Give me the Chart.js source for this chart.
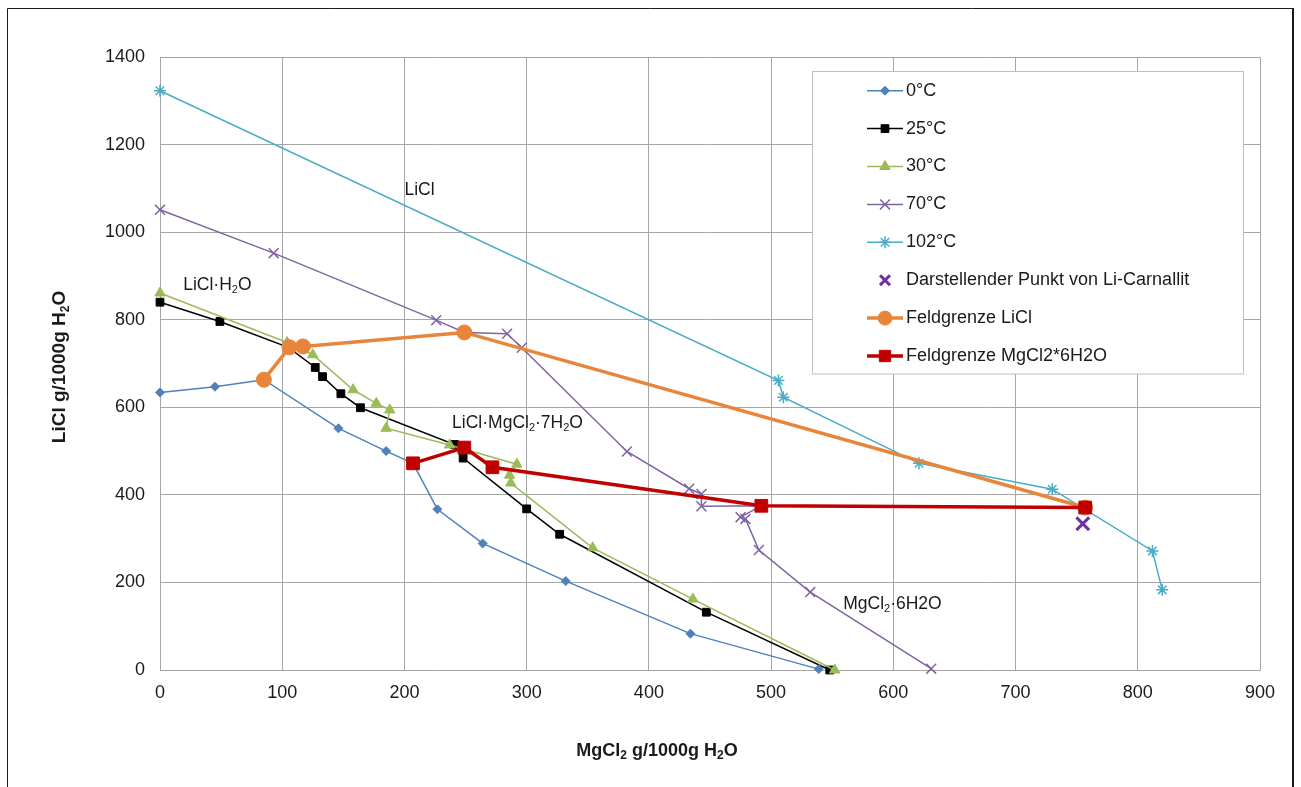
<!DOCTYPE html>
<html>
<head>
<meta charset="utf-8">
<script src="https://cdn.jsdelivr.net/npm/chart.js@4/dist/chart.umd.min.js"></script>
<style>
  html, body { margin: 0; padding: 0; background: #fff; }
  #wrap { position: relative; width: 1301px; height: 787px; }
</style>
</head>
<body>
<div id="wrap"><canvas id="c" width="1301" height="787"></canvas></div>
<script>
// ---------- DATA ----------
const xTicks = [0, 100, 200, 300, 400, 500, 600, 700, 800, 900];
const yTicks = [0, 200, 400, 600, 800, 1000, 1200, 1400];

const seriesLabels = ["0°C", "25°C", "30°C", "70°C", "102°C",
  "Darstellender Punkt von Li-Carnallit", "Feldgrenze LiCl", "Feldgrenze MgCl2*6H2O"];

const x0C = [0, 45, 85, 146, 185, 207, 227, 264, 332, 434, 539];
const y0C = [634, 647, 663, 552, 500, 472, 367, 289, 203, 83, 2];

const x25C = [0, 49, 105, 127, 133, 148, 164, 241, 248, 300, 327, 447, 548];
const y25C = [840, 796, 737, 691, 670, 631, 599, 515, 484, 368, 310, 132, 0];

const x30C = [0, 104, 125, 158, 177, 188, 185, 237, 292, 286, 287, 354, 436, 552];
const y30C = [861, 748, 720, 640, 609, 594, 552, 514, 470, 445, 427, 279, 162, 0];

const x70C = [0, 93, 226, 249, 284, 296, 382, 433, 443, 443, 492, 475, 479, 490, 532, 631];
const y70C = [1051, 952, 799, 771, 768, 736, 499, 414, 402, 374, 375, 349, 345, 274, 178, 3];

const x102C = [0, 506, 510, 621, 730, 812, 820];
const y102C = [1323, 661, 623, 472, 413, 272, 183];

const xCarnallit = [755];
const yCarnallit = [334];

const xFeldLiCl = [85, 106, 117, 249, 757];
const yFeldLiCl = [663, 737, 739, 771, 371];

const xFeldMg = [207, 249, 272, 492, 757];
const yFeldMg = [472, 508, 463, 375, 371];

// text annotations (data coordinates of left edge / vertical middle)
const annoTexts = [
  [["LiCl", 0]],
  [["LiCl·H", 0], ["2", 1], ["O", 0]],
  [["LiCl·MgCl", 0], ["2", 1], ["·7H", 0], ["2", 1], ["O", 0]],
  [["MgCl", 0], ["2", 1], ["·6H2O", 0]]
];
const annoX = [200, 19, 239, 559];
const annoY = [1096, 879, 564, 151];

// ---------- helpers ----------
function pts(xs, ys) { return xs.map((x, i) => ({ x: x, y: ys[i] })); }

const FONT = '"Liberation Sans", Arial, sans-serif';

function richWidth(ctx, segs, size, weight) {
  let w = 0;
  segs.forEach(s => {
    ctx.font = (weight || '') + ' ' + (s[1] ? Math.round(size * 0.65) : size) + 'px ' + FONT;
    w += ctx.measureText(s[0]).width;
  });
  return w;
}
function drawRich(ctx, segs, x, y, size, weight) {
  ctx.textAlign = 'left';
  ctx.textBaseline = 'middle';
  let cx = x;
  segs.forEach(s => {
    const sz = s[1] ? Math.round(size * 0.65) : size;
    ctx.font = (weight || '') + ' ' + sz + 'px ' + FONT;
    ctx.fillText(s[0], cx, s[1] ? y + size * 0.28 : y);
    cx += ctx.measureText(s[0]).width;
  });
}

function drawMarker(ctx, style, r, x, y, bw) {
  if (Chart.helpers && Chart.helpers.drawPoint) {
    Chart.helpers.drawPoint(ctx, { pointStyle: style, radius: r, rotation: 0, borderWidth: bw }, x, y);
    return;
  }
  ctx.beginPath();
  ctx.arc(x, y, r, 0, Math.PI * 2);
  ctx.fill(); ctx.stroke();
}

const GRID = '#A6A6A6';

const datasets = [
  { label: seriesLabels[0], data: pts(x0C, y0C), borderColor: '#4F81BD', backgroundColor: '#4F81BD',
    borderWidth: 1.5, pointStyle: 'rectRot', pointRadius: 4.5, pointBorderWidth: 1, order: 5 },
  { label: seriesLabels[1], data: pts(x25C, y25C), borderColor: '#000000', backgroundColor: '#000000',
    borderWidth: 1.5, pointStyle: 'rect', pointRadius: 5.5, pointBorderWidth: 1, order: 6 },
  { label: seriesLabels[2], data: pts(x30C, y30C), borderColor: '#9BBB59', backgroundColor: '#9BBB59',
    borderWidth: 1.5, pointStyle: 'triangle', pointRadius: 6, pointBorderWidth: 1, order: 4 },
  { label: seriesLabels[3], data: pts(x70C, y70C), borderColor: '#8064A2', backgroundColor: '#8064A2',
    borderWidth: 1.5, pointStyle: 'crossRot', pointRadius: 7, pointBorderWidth: 1.5, order: 7 },
  { label: seriesLabels[4], data: pts(x102C, y102C), borderColor: '#4BACC6', backgroundColor: '#4BACC6',
    borderWidth: 1.5, pointStyle: 'star', pointRadius: 6, pointBorderWidth: 1.5, order: 8 },
  { label: seriesLabels[5], data: pts(xCarnallit, yCarnallit), borderColor: '#7030A0', backgroundColor: '#7030A0',
    showLine: false, borderWidth: 3, pointStyle: 'crossRot', pointRadius: 9, pointBorderWidth: 3, order: 0 },
  { label: seriesLabels[6], data: pts(xFeldLiCl, yFeldLiCl), borderColor: '#E8853A', backgroundColor: '#E8853A',
    borderWidth: 3.5, pointStyle: 'circle', pointRadius: 7.5, pointBorderWidth: 1, order: 2 },
  { label: seriesLabels[7], data: pts(xFeldMg, yFeldMg), borderColor: '#C00000', backgroundColor: '#C00000',
    borderWidth: 3.5, pointStyle: 'rect', pointRadius: 9, pointBorderWidth: 1, order: 1 }
];
datasets.forEach(d => {
  if (d.showLine === undefined) d.showLine = true;
  d.pointBackgroundColor = d.backgroundColor;
  d.pointBorderColor = d.borderColor;
  d.pointHoverRadius = d.pointRadius;
  d.tension = 0;
  d.fill = false;
  d.clip = false;
});

const extras = {
  id: 'extras',
  beforeDraw(chart) {
    const ctx = chart.ctx;
    ctx.save();
    ctx.fillStyle = '#fff';
    ctx.fillRect(0, 0, chart.width, chart.height);
    ctx.strokeStyle = '#1a1a1a';
    ctx.lineWidth = 1;
    ctx.beginPath();
    ctx.moveTo(7.5, 800); ctx.lineTo(7.5, 8.5); ctx.lineTo(1293, 8.5);
    ctx.stroke();
    ctx.lineWidth = 2;
    ctx.beginPath();
    ctx.moveTo(1293, 8); ctx.lineTo(1293, 800);
    ctx.stroke();
    ctx.restore();
  },
  afterDatasetsDraw(chart) {
    const ctx = chart.ctx;
    const xs = chart.scales.x, ys = chart.scales.y;
    ctx.save();
    // annotations
    ctx.fillStyle = '#1a1a1a';
    annoTexts.forEach((segs, i) => {
      drawRich(ctx, segs, xs.getPixelForValue(annoX[i]), ys.getPixelForValue(annoY[i]), 17.5, '');
    });
    // axis titles
    const xt = [["MgCl", 0], ["2", 1], [" g/1000g H", 0], ["2", 1], ["O", 0]];
    const wX = richWidth(ctx, xt, 18, 'bold');
    drawRich(ctx, xt, 657 - wX / 2, 751, 18, 'bold');
    const yt = [["LiCl g/1000g H", 0], ["2", 1], ["O", 0]];
    const wY = richWidth(ctx, yt, 19, 'bold');
    ctx.save();
    ctx.translate(60, 367);
    ctx.rotate(-Math.PI / 2);
    drawRich(ctx, yt, -wY / 2, 0, 19, 'bold');
    ctx.restore();

    // legend box
    const L = 812, T = 71.5, R = 1243, B = 374;
    ctx.fillStyle = '#fff';
    ctx.fillRect(L, T, R - L, B - T);
    ctx.strokeStyle = '#BFBFBF';
    ctx.lineWidth = 1;
    ctx.strokeRect(L + 0.5, T, R - L, B - T);
    datasets.forEach((d, i) => {
      const cy = 90.7 + i * 37.9;
      if (d.showLine) {
        ctx.strokeStyle = d.borderColor;
        ctx.lineWidth = d.borderWidth;
        ctx.beginPath();
        ctx.moveTo(867, cy); ctx.lineTo(903, cy);
        ctx.stroke();
      }
      ctx.fillStyle = d.backgroundColor;
      ctx.strokeStyle = d.borderColor;
      ctx.lineWidth = d.pointBorderWidth;
      let r = d.pointRadius;
      if (i === 5) r = 7;
      if (i === 6) r = 7;
      if (i === 7) r = 8;
      drawMarker(ctx, d.pointStyle, r, 885, cy, d.pointBorderWidth);
      ctx.fillStyle = '#1a1a1a';
      ctx.font = '18px ' + FONT;
      ctx.textAlign = 'left';
      ctx.textBaseline = 'middle';
      ctx.fillText(d.label, 906, cy);
    });
    ctx.restore();
  }
};

new Chart(document.getElementById('c'), {
  type: 'scatter',
  data: { datasets: datasets },
  options: {
    responsive: false,
    animation: false,
    events: [],
    layout: { padding: { top: 57, right: 41, left: 0, bottom: 0 } },
    plugins: { legend: { display: false }, tooltip: { enabled: false }, title: { display: false } },
    scales: {
      x: {
        type: 'linear', min: 0, max: 900,
        afterFit(s) { s.height = 117; },
        afterBuildTicks(s) { s.ticks = xTicks.map(v => ({ value: v })); },
        grid: { color: GRID, lineWidth: 1, drawTicks: false },
        border: { display: true, color: GRID, width: 1 },
        ticks: { padding: 12, color: '#1a1a1a', font: { family: FONT, size: 18 }, maxRotation: 0,
                 callback: v => String(v) }
      },
      y: {
        type: 'linear', min: 0, max: 1400,
        afterFit(s) { s.width = 160; },
        afterBuildTicks(s) { s.ticks = yTicks.map(v => ({ value: v })); },
        grid: { color: GRID, lineWidth: 1, drawTicks: false },
        border: { display: true, color: GRID, width: 1 },
        ticks: { padding: 15, color: '#1a1a1a', font: { family: FONT, size: 18 },
                 callback: v => String(v) }
      }
    }
  },
  plugins: [extras]
});
</script>
</body>
</html>
